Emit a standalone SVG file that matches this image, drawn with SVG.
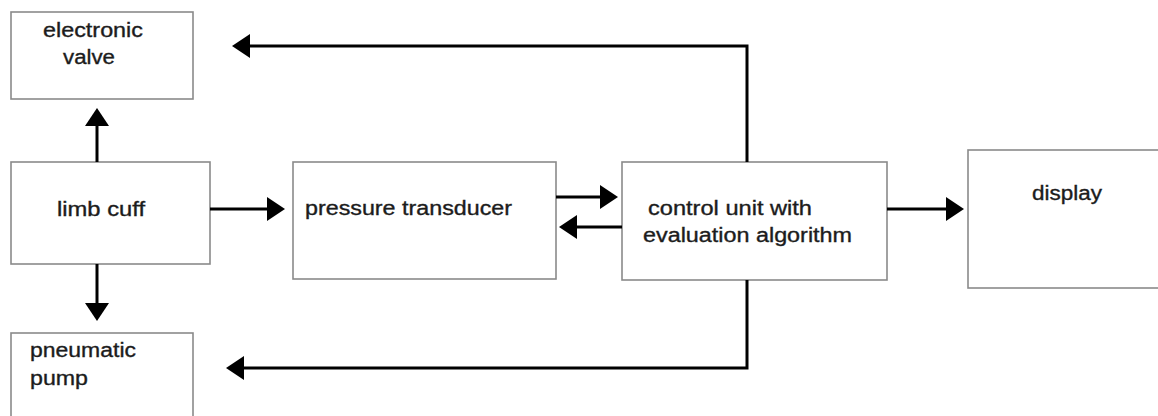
<svg xmlns="http://www.w3.org/2000/svg" width="1158" height="416" viewBox="0 0 1158 416">
<style>
.box{fill:#fff;stroke:#8a8a8a;stroke-width:1.6}
.lbl{font-family:"Liberation Sans",Arial,sans-serif;font-size:20px;fill:#1c1c1c;stroke:#1c1c1c;stroke-width:0.35}
.con{fill:none;stroke:#000;stroke-width:3}
</style>
<defs>
<marker id="ah" markerUnits="userSpaceOnUse" markerWidth="22" markerHeight="26" refX="2" refY="12" orient="auto">
<path d="M0,0 L18,12 L0,24 z" fill="#000"/>
</marker>
</defs>
<rect width="1158" height="416" fill="#fff"/>
<g id="electronic-valve">
<rect class="box" x="11" y="12" width="182" height="87"/>
<text class="lbl" x="43" y="37" textLength="100" lengthAdjust="spacingAndGlyphs">electronic</text>
<text class="lbl" x="63" y="64" textLength="52" lengthAdjust="spacingAndGlyphs">valve</text>
</g>
<g id="limb-cuff">
<rect class="box" x="11" y="162" width="199" height="102"/>
<text class="lbl" x="57" y="216" textLength="88" lengthAdjust="spacingAndGlyphs">limb cuff</text>
</g>
<g id="pneumatic-pump">
<rect class="box" x="11" y="333" width="182" height="100"/>
<text class="lbl" x="30" y="357" textLength="106" lengthAdjust="spacingAndGlyphs">pneumatic</text>
<text class="lbl" x="30" y="385" textLength="58" lengthAdjust="spacingAndGlyphs">pump</text>
</g>
<g id="pressure-transducer">
<rect class="box" x="293" y="162" width="263" height="117"/>
<text class="lbl" x="305" y="215" textLength="207" lengthAdjust="spacingAndGlyphs">pressure transducer</text>
</g>
<g id="control-unit">
<rect class="box" x="622" y="162" width="265" height="118"/>
<text class="lbl" x="648" y="215" textLength="164" lengthAdjust="spacingAndGlyphs">control unit with</text>
<text class="lbl" x="643" y="242" textLength="209" lengthAdjust="spacingAndGlyphs">evaluation algorithm</text>
</g>
<g id="display">
<rect class="box" x="968" y="150" width="210" height="138"/>
<text class="lbl" x="1032" y="200" textLength="70" lengthAdjust="spacingAndGlyphs">display</text>
</g>
<g id="connectors">
<path class="con" d="M97,162 V124" marker-end="url(#ah)"/>
<path class="con" d="M97,264 V305" marker-end="url(#ah)"/>
<path class="con" d="M210,209 H269" marker-end="url(#ah)"/>
<path class="con" d="M556,197 H602" marker-end="url(#ah)"/>
<path class="con" d="M622,227 H575" marker-end="url(#ah)"/>
<path class="con" d="M887,209 H948" marker-end="url(#ah)"/>
<path class="con" d="M747,162 V46 H248" marker-end="url(#ah)"/>
<path class="con" d="M747,280 V368 H242" marker-end="url(#ah)"/>
</g>
</svg>
